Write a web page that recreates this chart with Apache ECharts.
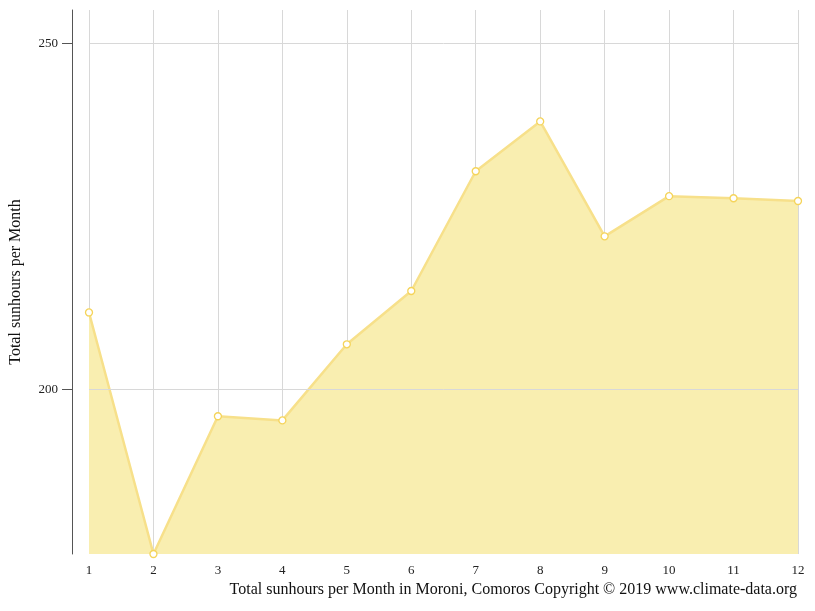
<!DOCTYPE html>
<html><head><meta charset="utf-8">
<script src="https://cdn.jsdelivr.net/npm/echarts@6/dist/echarts.min.js"></script>
<style>html,body{margin:0;padding:0;background:#fff}#c{width:815px;height:611px}</style>
</head><body><div id="c"></div>
<script>
const months = ['1','2','3','4','5','6','7','8','9','10','11','12'];
const sunhours = [211.1, 176.2, 196.1, 195.5, 206.5, 214.2, 231.5, 238.7, 222.1, 227.9, 227.6, 227.2];
const yTicks = [200, 250];

const chart = echarts.init(document.getElementById('c'));
const font = 'Liberation Serif, Times New Roman, serif';
chart.setOption({
  animation: false,
  textStyle: { fontFamily: font },
  grid: { left: 89, right: 17, top: 10, bottom: 57 },
  title: {
    text: 'Total sunhours per Month in Moroni, Comoros Copyright © 2019 www.climate-data.org',
    right: 13, bottom: 8,
    textStyle: { fontFamily: font, fontSize: 16, fontWeight: 'normal', color: '#111' }
  },
  xAxis: {
    type: 'category', data: months, boundaryGap: false,
    axisLine: { show: false }, axisTick: { show: false },
    axisLabel: { color: '#222', fontSize: 13, margin: 10, fontFamily: font },
    splitLine: { show: true, lineStyle: { color: '#d8d8d8' } }
  },
  yAxis: {
    type: 'value', min: 176.2, max: 254.8, offset: 17,
    name: 'Total sunhours per Month', nameLocation: 'middle', nameGap: 48,
    nameTextStyle: { fontFamily: font, fontSize: 16, color: '#111' },
    axisLine: { show: true, lineStyle: { color: '#555' } },
    axisTick: { show: true, length: 10, lineStyle: { color: '#555' }, customValues: yTicks },
    axisLabel: { color: '#222', fontSize: 13, margin: 14, fontFamily: font, customValues: yTicks },
    splitLine: { show: false }
  },
  series: [{
    type: 'line', data: sunhours,
    symbol: 'circle', symbolSize: 7,
    itemStyle: { color: '#fff', borderColor: '#f5d45a', borderWidth: 1.3 },
    lineStyle: { color: '#f7e08a', width: 2.5 },
    areaStyle: { color: '#f9eeb0', opacity: 1, origin: 'start' },
    markLine: {
      silent: true, symbol: 'none', label: { show: false },
      lineStyle: { color: '#d8d8d8', type: 'solid', width: 1 },
      data: yTicks.map(v => ({ yAxis: v }))
    }
  }]
});
</script></body></html>
